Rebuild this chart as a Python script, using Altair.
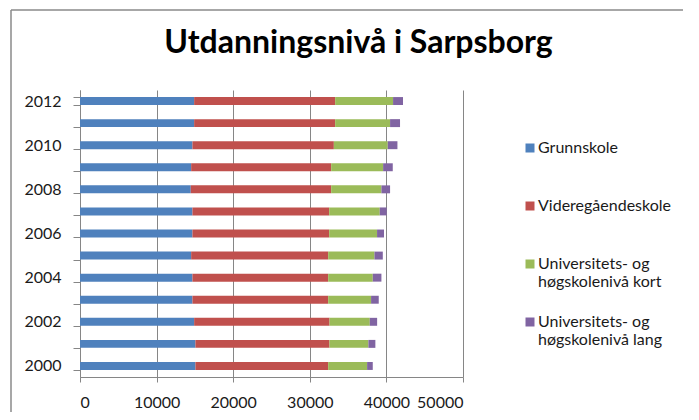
import altair as alt
import pandas as pd

years = list(range(2000, 2013))
series = ["Grunnskole", "Videregåendeskole",
          "Universitets- og høgskolenivå kort", "Universitets- og høgskolenivå lang"]
colors = ["#4F81BD", "#C0504D", "#9BBB59", "#8064A2"]

grunnskole = [15070, 15070, 14900, 14680, 14680, 14510, 14680, 14680, 14460, 14510, 14680, 14900, 14900]
videregaende = [17330, 17500, 17680, 17720, 17720, 17890, 17850, 17850, 18330, 18280, 18460, 18410, 18410]
univ_kort = [5080, 5080, 5250, 5600, 5820, 6040, 6250, 6600, 6560, 6780, 7040, 7170, 7560]
univ_lang = [740, 910, 960, 1000, 1130, 1090, 910, 910, 1130, 1260, 1260, 1300, 1300]

x_ticks = [0, 10000, 20000, 30000, 40000, 50000]

rows = []
for i, y in enumerate(years):
    for k, vals in enumerate([grunnskole, videregaende, univ_kort, univ_lang]):
        rows.append({"year": y, "serie": series[k], "idx": k, "value": vals[i]})
df = pd.DataFrame(rows)

FONT = "Lato"
GRAY = "#868686"
TXT = "#1a1a1a"

bars = alt.Chart(df).mark_bar().encode(
    y=alt.Y("year:O", sort="descending",
            scale=alt.Scale(paddingInner=0.64, paddingOuter=0.32),
            axis=alt.Axis(title=None, tickBand="extent", tickSize=7,
                          labelExpr="toNumber(datum.value) % 2 == 0 ? datum.label : ''",
                          labelFontSize=16, labelFont=FONT, labelColor=TXT,
                          labelPadding=12, domainColor=GRAY, tickColor=GRAY)),
    x=alt.X("value:Q", stack="zero",
            scale=alt.Scale(domain=[0, 50000], nice=False),
            axis=alt.Axis(title=None, values=x_ticks, format="d", grid=True,
                          gridColor=GRAY, gridWidth=1, tickSize=5,
                          domainColor=GRAY, tickColor=GRAY,
                          labelFontSize=16, labelFont=FONT, labelColor=TXT,
                          labelPadding=12)),
    color=alt.Color("serie:N", scale=alt.Scale(domain=series, range=colors),
                    legend=alt.Legend(title=None, orient="none", legendX=442, legendY=50,
                                      symbolType="square", symbolSize=81,
                                      symbolStrokeWidth=0, labelOffset=0,
                                      labelFont=FONT, labelFontSize=16, labelColor=TXT,
                                      rowPadding=24, labelLimit=300,
                                      labelExpr="indexof(datum.label, 'Universitets') == 0 ? [slice(datum.label, 0, 16), slice(datum.label, 17)] : [datum.label, ' ']")),
    order=alt.Order("idx:Q"),
)

frame_df = pd.DataFrame({"k": [0]})
top_line = alt.Chart(frame_df).mark_rule(color="#8a8a8a", strokeWidth=1.5).encode(
    x=alt.value(-69), x2=alt.value(603), y=alt.value(-80))
left_line = alt.Chart(frame_df).mark_rule(color="#8a8a8a", strokeWidth=1.5).encode(
    x=alt.value(-69), y=alt.value(-80), y2=alt.value(322))

chart = alt.layer(bars, top_line, left_line).properties(
    width=383, height=287,
    title=alt.Title("Utdanningsnivå i Sarpsborg", fontSize=32, font=FONT, fontWeight="bold",
                    color="#000000", anchor="middle", frame="group", dx=87, dy=85, offset=34),
    padding={"left": 72, "top": 82, "right": 228, "bottom": 35},
    autosize=alt.AutoSizeParams(type="none"),
).configure_view(stroke=None)

chart.save("out.html", embed_options={"renderer": "svg", "actions": False})
